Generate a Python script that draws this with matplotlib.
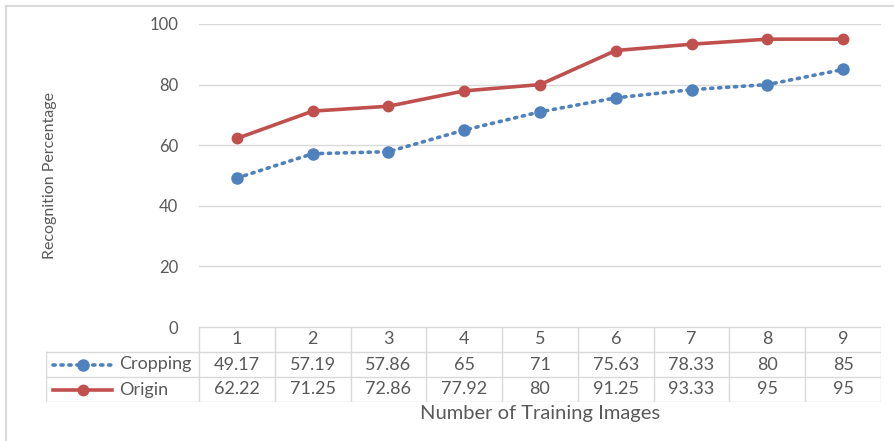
import matplotlib.pyplot as plt
from matplotlib.lines import Line2D

# data
categorias = ['1', '2', '3', '4', '5', '6', '7', '8', '9']
cropping = [49.17, 57.19, 57.86, 65, 71, 75.63, 78.33, 80, 85]
origin = [62.22, 71.25, 72.86, 77.92, 80, 91.25, 93.33, 95, 95]
cropping_txt = ['49.17', '57.19', '57.86', '65', '71', '75.63', '78.33', '80', '85']
origin_txt = ['62.22', '71.25', '72.86', '77.92', '80', '91.25', '93.33', '95', '95']
yticks = [0, 20, 40, 60, 80, 100]

AZUL = '#4F81BD'
ROJO = '#C0504D'
GRIS = '#595959'
REJILLA = '#D9D9D9'

plt.rcParams['font.family'] = ['Lato', 'DejaVu Sans']

W, H = 894, 441
fig = plt.figure(figsize=(W / 100, H / 100), dpi=100)

def px(x0, y0, x1, y1):
    # caja en pixeles (desde arriba) -> coordenadas de figura
    return [x0 / W, 1 - y1 / H, (x1 - x0) / W, (y1 - y0) / H]

# borde del grafico
fig.add_artist(Line2D([6 / W, 6 / W], [0, 1 - 6 / H], color=REJILLA, lw=1.5))
fig.add_artist(Line2D([6 / W, 1], [1 - 6 / H, 1 - 6 / H], color=REJILLA, lw=1.5))

n = len(categorias)
xs = list(range(n))

# grafico principal
ax = fig.add_axes(px(199, 24, 881, 327))
ax.set_xlim(-0.5, n - 0.5)
ax.set_ylim(0, 100)
ax.plot(xs, origin, color=ROJO, lw=2.6, marker='o', ms=7.5, clip_on=False, zorder=3)
ax.plot(xs, cropping, color=AZUL, lw=2.6, ls=(0, (0.6, 1.6)), dash_capstyle='round',
        marker='o', ms=8, clip_on=False, zorder=3)
ax.set_yticks(yticks)
ax.set_xticks([])
ax.yaxis.grid(True, color=REJILLA, lw=1)
ax.set_axisbelow(True)
for s in ax.spines.values():
    s.set_visible(False)
ax.tick_params(axis='y', length=0, pad=15, labelsize=12, labelcolor=GRIS)
ax.set_ylabel('Recognition Percentage', fontsize=11.5, color=GRIS, labelpad=0)
ax.yaxis.set_label_coords(-(199 - 57) / 682, 0.5)

# tabla de datos
ancho = 682 / n
izq = -0.5 - (199 - 46) / ancho
tb = fig.add_axes(px(46, 327, 881, 402))
tb.set_xlim(izq, n - 0.5)
tb.set_ylim(3, 0)
tb.axis('off')
kw = dict(color=REJILLA, lw=1)
tb.plot([-0.5, n - 0.5], [0, 0], **kw)
for y in [1, 2, 3]:
    tb.plot([izq, n - 0.5], [y, y], **kw)
for i in range(n + 1):
    tb.plot([i - 0.5, i - 0.5], [0, 3], **kw)
tb.plot([izq, izq], [1, 3], **kw)

fs = 13
for i in xs:
    tb.text(i, 0.5, categorias[i], ha='center', va='center', fontsize=fs, color=GRIS)
    tb.text(i, 1.5, cropping_txt[i], ha='center', va='center', fontsize=fs, color=GRIS)
    tb.text(i, 2.5, origin_txt[i], ha='center', va='center', fontsize=fs, color=GRIS)

# claves de leyenda dentro de la tabla
x0 = izq + (53 - 46) / ancho
x1 = izq + (112 - 46) / ancho
xm = (x0 + x1) / 2
tb.plot([x0, x1], [1.5, 1.5], color=AZUL, lw=2.6, ls=(0, (0.6, 1.6)), dash_capstyle='round')
tb.plot([xm], [1.5], color=AZUL, marker='o', ms=8)
tb.plot([x0, x1], [2.5, 2.5], color=ROJO, lw=2.6)
tb.plot([xm], [2.5], color=ROJO, marker='o', ms=7.5)
xt = izq + (119 - 46) / ancho
tb.text(xt, 1.5, 'Cropping', ha='left', va='center', fontsize=fs, color=GRIS)
tb.text(xt, 2.5, 'Origin', ha='left', va='center', fontsize=fs, color=GRIS)

fig.text(540 / W, 1 - 414 / H, 'Number of Training Images', ha='center', va='center',
         fontsize=14.5, color=GRIS)

fig.savefig('out.png', dpi=100)
